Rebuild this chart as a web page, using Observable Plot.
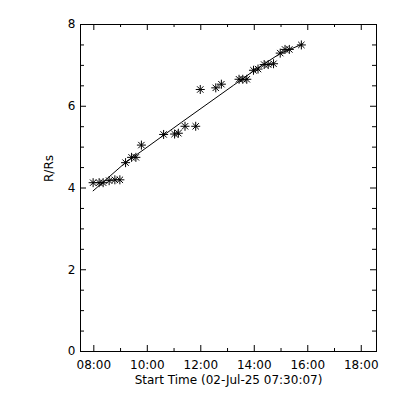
<!DOCTYPE html>
<html><head><meta charset="utf-8">
<script src="https://cdn.jsdelivr.net/npm/d3@7"></script>
<script src="https://cdn.jsdelivr.net/npm/@observablehq/plot@0.6"></script>
<style>body{margin:0;background:#fff}</style>
</head><body><div id="chart"></div>
<script>
// Observation times (decimal hours, 02-Jul-25) and heights (R/Rs)
const times = [7.974, 8.199, 8.348, 8.573, 8.787, 8.974, 9.187, 9.412, 9.573, 9.779,
  10.61, 11.02, 11.16, 11.41, 11.81, 11.98, 12.56, 12.77, 13.43, 13.57,
  13.72, 13.97, 14.14, 14.37, 14.52, 14.72, 14.97, 15.15, 15.31, 15.76];
const radii = [4.13, 4.13, 4.13, 4.18, 4.20, 4.20, 4.62, 4.75, 4.75, 5.05,
  5.31, 5.32, 5.34, 5.51, 5.51, 6.41, 6.45, 6.54, 6.66, 6.66,
  6.66, 6.88, 6.91, 7.02, 7.02, 7.04, 7.30, 7.39, 7.39, 7.50];
// Fitted curve
const fitTimes = [7.974, 9.161, 9.91, 11.285, 13.217, 14.094, 14.967, 15.80];
const fitRadii = [3.93, 4.61, 4.96, 5.61, 6.51, 6.92, 7.29, 7.52];

const xTicks = [8, 10, 12, 14, 16, 18];
const xTickLabels = ["08:00", "10:00", "12:00", "14:00", "16:00", "18:00"];
const xMinorTicks = [9, 11, 13, 15, 17];
const yTicks = [0, 2, 4, 6, 8];
const yTickLabels = ["0", "2", "4", "6", "8"];
const yMinorTicks = [0.5, 1, 1.5, 2.5, 3, 3.5, 4.5, 5, 5.5, 6.5, 7, 7.5];
const xLabel = "Start Time (02-Jul-25 07:30:07)";
const yLabel = "R/Rs";
const xDomain = [7.502, 18.57];
const yDomain = [0, 8];

const points = times.map((t, i) => ({t, r: radii[i]}));
const fit = fitTimes.map((t, i) => ({t, r: fitRadii[i]}));

const W = 400, H = 400, mL = 80, mR = 24, mT = 24, mB = 49;
const pw = W - mL - mR, ph = H - mT - mB;

const asterisk8 = {
  draw(ctx, size) {
    const r = Math.sqrt(size / Math.PI);
    const d = r * Math.SQRT1_2;
    ctx.moveTo(-r, 0); ctx.lineTo(r, 0);
    ctx.moveTo(0, -r); ctx.lineTo(0, r);
    ctx.moveTo(-d, -d); ctx.lineTo(d, d);
    ctx.moveTo(-d, d); ctx.lineTo(d, -d);
  }
};

const chart = Plot.plot({
  width: W, height: H,
  marginLeft: mL, marginRight: mR, marginTop: mT, marginBottom: mB,
  style: {fontFamily: "DejaVu Sans", fontSize: "12px", background: "#fff", color: "#000"},
  x: {domain: xDomain, label: null, axis: null},
  y: {domain: yDomain, label: null, axis: null},
  marks: [
    Plot.frame({stroke: "#000"}),
    // inward ticks
    Plot.tickY(yTicks, {y: d => d, insetRight: pw - 6, stroke: "#000"}),
    Plot.tickY(yTicks, {y: d => d, insetLeft: pw - 6, stroke: "#000"}),
    Plot.tickY(yMinorTicks, {y: d => d, insetRight: pw - 4, stroke: "#000"}),
    Plot.tickY(yMinorTicks, {y: d => d, insetLeft: pw - 4, stroke: "#000"}),
    Plot.tickX(xTicks, {x: d => d, insetTop: ph - 6, stroke: "#000"}),
    Plot.tickX(xTicks, {x: d => d, insetBottom: ph - 6, stroke: "#000"}),
    Plot.tickX(xMinorTicks, {x: d => d, insetTop: ph - 3, stroke: "#000"}),
    Plot.tickX(xMinorTicks, {x: d => d, insetBottom: ph - 3, stroke: "#000"}),
    Plot.axisX(xTicks, {anchor: "bottom", tickSize: 0, tickPadding: 9, label: null,
      tickFormat: d => xTickLabels[xTicks.indexOf(d)]}),
    Plot.axisY(yTicks, {anchor: "left", tickSize: 0, tickPadding: 5, label: null,
      tickFormat: d => yTickLabels[yTicks.indexOf(d)]}),
    Plot.text([xLabel], {frameAnchor: "bottom", dy: 29, lineAnchor: "middle"}),
    Plot.text([yLabel], {frameAnchor: "left", dx: -31, dy: -6, rotate: -90, lineAnchor: "middle"}),
    Plot.line(fit, {x: "t", y: "r", stroke: "#000", strokeWidth: 1}),
    Plot.dot(points, {x: "t", y: "r", symbol: asterisk8, r: 4.5, stroke: "#000", fill: "none", strokeWidth: 1})
  ]
});
document.getElementById("chart").appendChild(chart);
</script>
</body></html>
